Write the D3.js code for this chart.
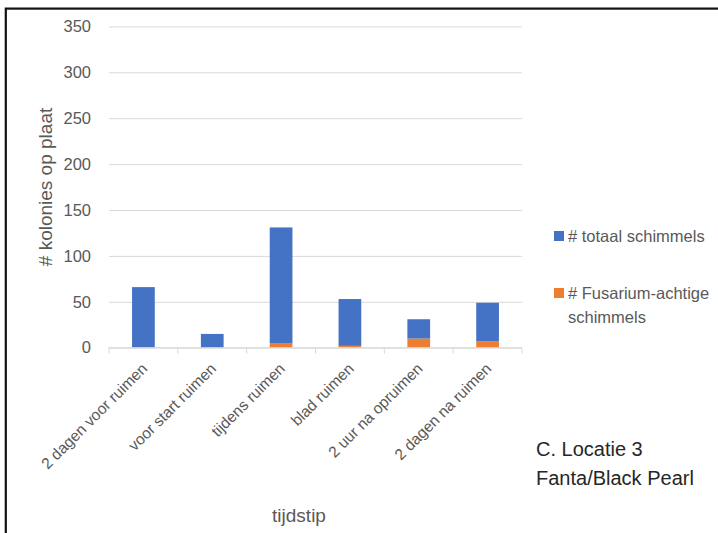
<!DOCTYPE html>
<html>
<head>
<meta charset="utf-8">
<script src="https://cdn.jsdelivr.net/npm/d3@7"></script>
<style>
  html, body { margin: 0; padding: 0; background: #fff; }
  svg { display: block; }
  text { font-family: "Liberation Sans", Arial, sans-serif; }
</style>
</head>
<body>
<svg id="chart" width="718" height="533"></svg>
<script>
// Categories (time points) and colony counts per plate
const categories = ["2 dagen voor ruimen", "voor start ruimen", "tijdens ruimen", "blad ruimen", "2 uur na opruimen", "2 dagen na ruimen"];
const fusarium = [0, 0, 5, 2, 10, 7];          // # Fusarium-achtige schimmels
const totaal = [66, 15, 126, 51, 21, 42];      // # totaal schimmels (stacked on top)
const yTicks = [0, 50, 100, 150, 200, 250, 300, 350];
const seriesNames = ["# totaal schimmels", "# Fusarium-achtige schimmels"];
const colors = { totaal: "#4472C4", fusarium: "#ED7D31" };

const svg = d3.select("#chart");

// Frame around the figure
svg.append("rect")
  .attr("x", 5.8).attr("y", 8.6)
  .attr("width", 900).attr("height", 900)
  .attr("fill", "none").attr("stroke", "#111").attr("stroke-width", 2.2);

const plot = { left: 109, right: 522, top: 26.4, bottom: 347.7 };

const x = d3.scaleBand().domain(categories).range([plot.left, plot.right]).paddingInner(0).paddingOuter(0);
const y = d3.scaleLinear().domain([0, 350]).range([plot.bottom, plot.top]);

// Gridlines and y tick labels
const yAxis = d3.axisLeft(y).tickValues(yTicks).tickSize(-(plot.right - plot.left)).tickPadding(18);
const gy = svg.append("g").attr("transform", `translate(${plot.left},0)`).call(yAxis);
gy.select(".domain").remove();
gy.selectAll(".tick line").attr("stroke", "#d9d9d9").attr("stroke-width", 1);
gy.selectAll(".tick text").attr("fill", "#595959").attr("font-size", "16.5px")
  .attr("font-family", "'Liberation Sans', Arial, sans-serif");

// Stacked bars
const rows = categories.map((c, i) => ({ cat: c, fusarium: fusarium[i], totaal: totaal[i] }));
const stack = d3.stack().keys(["fusarium", "totaal"])(rows);
const barW = x.bandwidth() * 0.33;

svg.append("g").selectAll("g")
  .data(stack).join("g")
  .attr("fill", d => colors[d.key])
  .selectAll("rect")
  .data(d => d).join("rect")
  .attr("x", d => x(d.data.cat) + (x.bandwidth() - barW) / 2)
  .attr("y", d => y(d[1]))
  .attr("width", barW)
  .attr("height", d => y(d[0]) - y(d[1]));

// Category axis with ticks at slot boundaries
const gx = svg.append("g").attr("transform", `translate(0,${plot.bottom})`);
gx.append("line").attr("x1", plot.left).attr("x2", plot.right)
  .attr("stroke", "#d9d9d9").attr("stroke-width", 1);
const bounds = categories.map(c => x(c)).concat([x(categories[categories.length - 1]) + x.bandwidth()]);
gx.selectAll("line.tk").data(bounds).join("line").attr("class", "tk")
  .attr("x1", d => d).attr("x2", d => d).attr("y1", 0).attr("y2", 6)
  .attr("stroke", "#d9d9d9").attr("stroke-width", 1);

gx.selectAll("text.cat").data(categories).join("text").attr("class", "cat")
  .attr("transform", d => `translate(${x(d) + x.bandwidth() / 2 + 1},${18}) rotate(-45)`)
  .attr("text-anchor", "end").attr("dy", "0.35em")
  .attr("fill", "#595959").attr("font-size", "15.5px")
  .text(d => d);

// Axis titles
svg.append("text")
  .attr("transform", `translate(45,187) rotate(-90)`)
  .attr("text-anchor", "middle").attr("dy", "0.35em")
  .attr("fill", "#595959").attr("font-size", "19px")
  .text("# kolonies op plaat");

svg.append("text")
  .attr("x", 299).attr("y", 515).attr("dy", "0.35em")
  .attr("text-anchor", "middle")
  .attr("fill", "#595959").attr("font-size", "19px")
  .text("tijdstip");

// Legend
const legend = svg.append("g");
const legendItems = [
  { key: "totaal", lines: [seriesNames[0]], y: 236 },
  { key: "fusarium", lines: ["# Fusarium-achtige", "schimmels"], y: 293 }
];
legendItems.forEach(it => {
  legend.append("rect").attr("x", 554).attr("y", it.y - 5).attr("width", 10).attr("height", 10)
    .attr("fill", colors[it.key]);
  it.lines.forEach((ln, j) => {
    legend.append("text").attr("x", 568).attr("y", it.y + j * 24).attr("dy", "0.35em")
      .attr("fill", "#595959").attr("font-size", "16.5px").text(ln);
  });
});

// Location note
const note = svg.append("g").attr("fill", "#262626").attr("font-size", "20px");
note.append("text").attr("x", 536).attr("y", 449).attr("dy", "0.35em").text("C. Locatie 3");
note.append("text").attr("x", 536).attr("y", 478).attr("dy", "0.35em").text("Fanta/Black Pearl");
</script>
</body>
</html>
